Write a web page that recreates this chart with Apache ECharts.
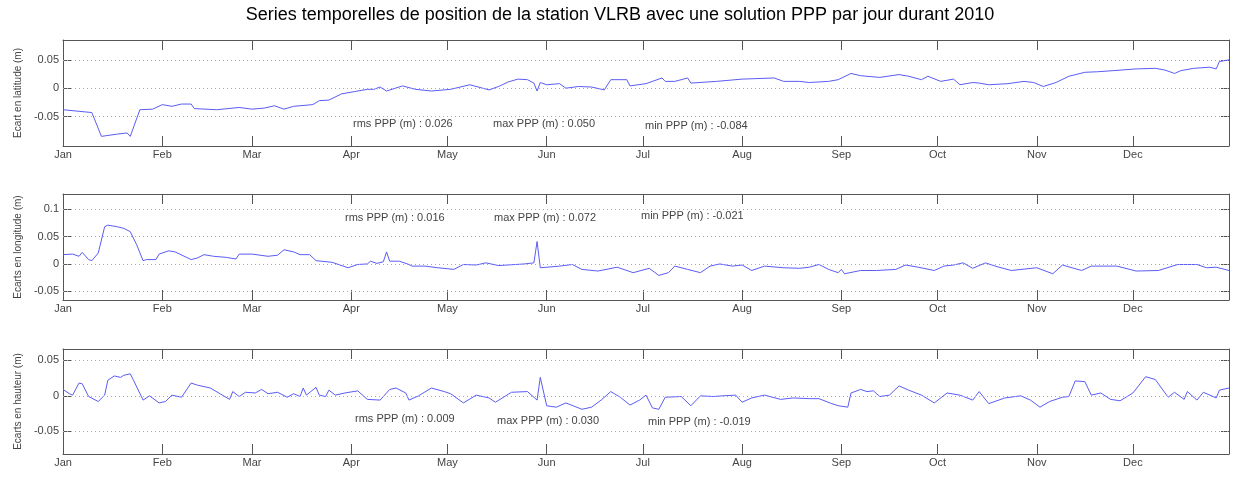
<!DOCTYPE html>
<html>
<head>
<meta charset="utf-8">
<script src="https://cdn.jsdelivr.net/npm/echarts@6/dist/echarts.min.js"></script>
<style>
html,body{margin:0;padding:0;background:#fff;}
#chart{width:1233px;height:497px;}
</style>
</head>
<body>
<div id="chart"></div>
<script>
// Day of year (0 = 1 Jan 2010) of month starts, and their labels
const monthStarts = [0, 31, 59, 90, 120, 151, 181, 212, 243, 273, 304, 334];
const monthNames = ['Jan','Feb','Mar','Apr','May','Jun','Jul','Aug','Sep','Oct','Nov','Dec'];

// Panel 1: Ecart en latitude (m)
const latDays = [0,9,12,17,20,21,24,28,31,34,37,40,41,48,55,59,63,66,69,72,78,80,83,87,91,95,97,99,101,106,110,115,121,127,133,136,139,142,145,147,148,149,151,155,157,161,165,169,171,176,177,182,187,188,191,195,196,204,212,222,225,230,233,239,242,246,249,255,261,264,268,270,274,278,280,284,286,289,295,300,303,306,310,314,319,323,328,335,341,344,347,349,353,358,360,361,364];
const latVals = [-0.038,-0.043,-0.085,-0.081,-0.079,-0.085,-0.038,-0.037,-0.029,-0.032,-0.028,-0.028,-0.036,-0.038,-0.034,-0.037,-0.035,-0.031,-0.037,-0.032,-0.029,-0.022,-0.021,-0.010,-0.006,-0.002,-0.002,0.002,-0.005,0.004,-0.002,-0.005,-0.002,0.006,-0.003,0.003,0.011,0.016,0.015,0.009,-0.005,0.010,0.006,0.008,0.000,0.003,0.002,-0.003,0.015,0.015,0.004,0.008,0.018,0.012,0.012,0.018,0.009,0.012,0.016,0.018,0.012,0.012,0.010,0.012,0.015,0.026,0.022,0.019,0.024,0.021,0.015,0.021,0.012,0.016,0.006,0.010,0.009,0.006,0.008,0.012,0.010,0.003,0.010,0.021,0.028,0.029,0.031,0.034,0.035,0.032,0.026,0.031,0.035,0.037,0.034,0.047,0.050];

// Panel 2: Ecarts en longitude (m)
const lonDays = [0,3,5,6,8,9,11,13,14,17,19,21,23,25,26,29,30,33,35,40,42,44,47,51,54,55,59,64,67,69,72,74,77,79,84,89,92,95,96,98,100,101,102,105,108,109,113,117,122,125,129,132,136,144,147,148,149,155,159,162,167,173,178,183,186,189,191,195,199,202,205,209,212,215,219,225,230,233,236,239,242,243,244,249,254,260,263,267,272,275,278,281,284,288,291,296,304,309,312,318,321,329,335,342,348,354,357,360,364];
const lonVals = [0.017,0.018,0.014,0.021,0.008,0.006,0.020,0.068,0.071,0.068,0.065,0.059,0.035,0.006,0.008,0.008,0.018,0.024,0.022,0.008,0.011,0.017,0.014,0.012,0.009,0.018,0.018,0.014,0.016,0.026,0.022,0.017,0.017,0.006,0.003,-0.007,-0.001,0.000,0.005,0.001,0.004,0.022,0.005,0.005,-0.001,-0.004,-0.004,-0.007,-0.010,-0.001,-0.002,0.002,-0.003,0.000,0.002,0.041,-0.007,-0.004,-0.001,-0.010,-0.013,-0.006,-0.016,-0.008,-0.021,-0.016,-0.004,-0.010,-0.016,-0.004,0.000,-0.004,-0.002,-0.012,-0.004,-0.007,-0.008,-0.006,-0.001,-0.010,-0.016,-0.010,-0.018,-0.012,-0.012,-0.010,-0.002,-0.006,-0.012,-0.004,-0.002,0.002,-0.008,0.002,-0.004,-0.012,-0.007,-0.018,-0.002,-0.012,-0.004,-0.004,-0.013,-0.012,-0.001,-0.001,-0.007,-0.006,-0.012];

// Panel 3: Ecarts en hauteur (m)
const hgtDays = [0,2,3,5,6,8,11,13,14,16,18,19,21,22,25,27,30,32,34,37,40,42,46,49,52,53,55,57,60,62,64,67,70,72,74,75,76,79,80,82,83,85,88,92,95,99,102,104,107,108,111,115,119,121,125,129,133,135,140,145,148,149,151,154,157,162,165,168,171,174,177,180,182,184,186,188,193,196,199,203,206,210,212,215,219,224,228,233,236,240,242,245,246,249,251,253,255,258,261,264,268,272,276,280,284,286,289,294,299,302,305,308,312,314,316,319,321,324,327,330,334,338,341,345,347,350,351,354,356,360,361,364];
const hgtVals = [0.009,0.003,0.001,0.018,0.017,-0.001,-0.008,0.001,0.022,0.028,0.026,0.029,0.031,0.022,-0.006,0.000,-0.010,-0.008,0.001,-0.002,0.018,0.015,0.011,0.003,-0.005,0.006,-0.001,0.005,0.004,0.009,0.003,0.005,-0.002,0.003,-0.001,0.011,0.001,0.012,0.001,-0.001,0.008,0.001,0.004,0.007,-0.005,-0.006,0.009,0.011,0.004,-0.006,0.000,0.011,0.006,0.003,-0.010,0.001,-0.003,-0.009,0.005,0.006,-0.006,0.026,-0.014,-0.016,-0.010,-0.019,-0.016,-0.006,0.006,-0.002,-0.013,-0.006,0.001,-0.017,-0.019,-0.002,-0.001,-0.014,0.000,-0.001,0.000,0.001,-0.009,-0.003,0.001,-0.005,-0.003,-0.004,-0.004,-0.011,-0.014,-0.016,0.004,0.009,0.006,0.007,-0.001,0.001,0.014,0.008,0.001,-0.010,0.004,0.001,-0.006,0.006,-0.011,-0.003,0.000,-0.006,-0.016,-0.008,-0.002,-0.001,0.021,0.020,0.001,0.004,-0.005,-0.007,0.004,0.027,0.023,-0.002,0.005,-0.005,0.006,-0.006,0.005,-0.003,0.008,0.011];

// Y tick labels per panel
const latTicks = [-0.05, 0, 0.05];
const lonTicks = [-0.05, 0, 0.05, 0.1];
const hgtTicks = [-0.05, 0, 0.05];

const yNames = ['Ecart en latitude (m)', 'Ecarts en longitude (m)', 'Ecarts en hauteur (m)'];
const statTexts = [
  ['rms PPP (m) : 0.026', 'max PPP (m) : 0.050', 'min PPP (m) : -0.084'],
  ['rms PPP (m) : 0.016', 'max PPP (m) : 0.072', 'min PPP (m) : -0.021'],
  ['rms PPP (m) : 0.009', 'max PPP (m) : 0.030', 'min PPP (m) : -0.019']
];
const titleText = 'Series temporelles de position de la station VLRB avec une solution PPP par jour durant 2010';

const FONT = "'Liberation Sans', Arial, sans-serif";
const AX = '#555';
const TXT = '#444';
const LINE = '#5c5cf4';

const panels = [
  {days: latDays, vals: latVals, ticks: latTicks, min: -0.102, max: 0.085, top: 40, height: 106},
  {days: lonDays, vals: lonVals, ticks: lonTicks, min: -0.066, max: 0.128, top: 194, height: 106},
  {days: hgtDays, vals: hgtVals, ticks: hgtTicks, min: -0.082, max: 0.066, top: 349, height: 105}
];
const statPos = [
  [[353,125],[493,125],[645,127]],
  [[345,219],[494,219],[641,217]],
  [[355,420],[497,422],[648,423]]
];

const grid = [], xAxis = [], yAxis = [], series = [], graphic = [];
panels.forEach((p, i) => {
  grid.push({left: 63, right: 4, top: p.top, height: p.height, containLabel: false});
  const xBase = {
    gridIndex: i, type: 'value', min: 0, max: 364,
    axisLine: {show: true, onZero: false, lineStyle: {color: AX, width: 1}},
    axisTick: {show: true, inside: true, length: 10, customValues: monthStarts, lineStyle: {color: AX, width: 1}},
    splitLine: {show: false}
  };
  xAxis.push(Object.assign({}, xBase, {
    position: 'bottom',
    axisLabel: {show: true, customValues: monthStarts, margin: 3, color: TXT, fontSize: 11, fontFamily: FONT,
      formatter: v => monthNames[monthStarts.indexOf(Math.round(v))] || ''}
  }));
  xAxis.push(Object.assign({}, xBase, {position: 'top', axisLabel: {show: false}}));
  const yBase = {
    gridIndex: i, type: 'value', min: p.min, max: p.max,
    axisLine: {show: true, onZero: false, lineStyle: {color: AX, width: 1}},
    axisTick: {show: true, inside: true, length: 8, customValues: p.ticks, lineStyle: {color: AX, width: 1}},
    splitLine: {show: false}
  };
  yAxis.push(Object.assign({}, yBase, {
    position: 'left',
    name: yNames[i], nameLocation: 'middle', nameGap: 40, nameRotate: 90,
    nameTextStyle: {color: TXT, fontSize: 10, fontFamily: FONT},
    axisLabel: {show: true, customValues: p.ticks, margin: 4, color: TXT, fontSize: 11, fontFamily: FONT,
      formatter: v => (Math.abs(v) < 1e-9 ? '0' : String(+v.toFixed(3)))}
  }));
  yAxis.push(Object.assign({}, yBase, {position: 'right', axisLabel: {show: false}}));
  series.push({
    type: 'line', xAxisIndex: 2 * i, yAxisIndex: 2 * i,
    data: p.days.map((d, k) => [d, p.vals[k]]),
    showSymbol: false, symbol: 'none', smooth: false,
    lineStyle: {color: LINE, width: 1},
    markLine: {
      silent: true, symbol: 'none', label: {show: false}, animation: false,
      lineStyle: {type: [1, 3], color: '#aaa', width: 1},
      emphasis: {disabled: true},
      data: p.ticks.map(t => ({yAxis: t}))
    },
    z: 3
  });
  statTexts[i].forEach((t, k) => {
    graphic.push({type: 'text', left: statPos[i][k][0], top: statPos[i][k][1] - 7,
      style: {text: t, fill: TXT, font: '11px ' + FONT}});
  });
});
graphic.push({type: 'text', x: 620, y: 15,
  style: {text: titleText, fill: '#000', font: '18px ' + FONT, align: 'center', verticalAlign: 'middle'}});

const chart = echarts.init(document.getElementById('chart'), null, {renderer: 'canvas'});
chart.setOption({
  backgroundColor: '#fff',
  animation: false,
  grid, xAxis, yAxis, series, graphic
});
</script>
</body>
</html>
